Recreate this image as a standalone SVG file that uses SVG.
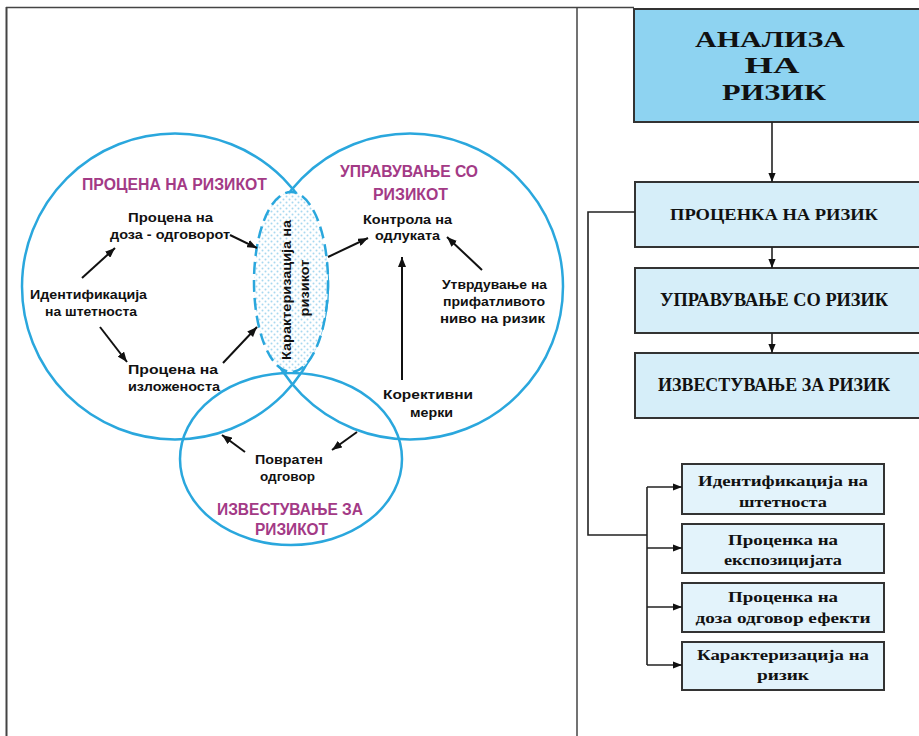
<svg xmlns="http://www.w3.org/2000/svg" width="919" height="736" viewBox="0 0 919 736">
<style>
.frame{stroke:#444;fill:none}
.circ{fill:none;stroke:#2aa7dd;stroke-width:2.5}
.lbl{font-family:"Liberation Sans",Arial,sans-serif;font-weight:bold;font-size:12px;fill:#111;text-anchor:middle}
.ttl{font-family:"Liberation Sans",Arial,sans-serif;font-weight:bold;font-size:16px;fill:#a33a86;text-anchor:middle}
.conn{stroke:#111;stroke-width:2;fill:none}
.rconn{stroke:#222;stroke-width:1.6;fill:none}
.bigbox{fill:#8ed3f1;stroke:#333;stroke-width:2}
.box{fill:#d6eef9;stroke:#333;stroke-width:2}
.sbox{fill:#e3f3fb;stroke:#333;stroke-width:2}
.serif{font-family:"Liberation Serif","Times New Roman",serif;font-weight:bold;fill:#111;text-anchor:middle}
</style>
<defs>
<marker id="ah" viewBox="0 0 10 8" refX="10" refY="4" markerWidth="10" markerHeight="8" markerUnits="userSpaceOnUse" orient="auto">
<path d="M0,0 L10,4 L0,8 z" fill="#111"/>
</marker>
<marker id="rh" viewBox="0 0 10 8" refX="10" refY="4" markerWidth="9" markerHeight="8" markerUnits="userSpaceOnUse" orient="auto">
<path d="M0,0 L10,4 L0,8 z" fill="#111"/>
</marker>
<pattern id="dots" width="6" height="6" patternUnits="userSpaceOnUse">
<rect width="6" height="6" fill="#fff"/>
<circle cx="1.5" cy="1.5" r="1" fill="#a8d8f0"/>
<circle cx="4.5" cy="4.5" r="1" fill="#a8d8f0"/>
</pattern>
</defs>
<rect width="919" height="736" fill="#fff"/>
<g id="frame">
<line class="frame" x1="6.5" y1="7" x2="6.5" y2="736" stroke-width="2"/>
<line class="frame" x1="6" y1="7.5" x2="634" y2="7.5" stroke-width="1.5"/>
<line class="frame" x1="577" y1="7" x2="577" y2="736" stroke-width="1.5"/>
</g>
<g id="circle-procena">
<circle class="circ" cx="175" cy="286.5" r="153"/>
<text class="ttl" x="174.5" y="190" textLength="185" lengthAdjust="spacingAndGlyphs">ПРОЦЕНА НА РИЗИКОТ</text>
</g>
<g id="circle-upravuvanje">
<circle class="circ" cx="410" cy="286.5" r="153"/>
<text class="ttl" x="409" y="177" textLength="138" lengthAdjust="spacingAndGlyphs">УПРАВУВАЊЕ СО</text>
<text class="ttl" x="410.5" y="200" textLength="75" lengthAdjust="spacingAndGlyphs">РИЗИКОТ</text>
</g>
<g id="circle-izvestuvanje">
<ellipse class="circ" cx="291" cy="459" rx="111" ry="86"/>
<text class="ttl" x="290" y="515" textLength="146" lengthAdjust="spacingAndGlyphs">ИЗВЕСТУВАЊЕ ЗА</text>
<text class="ttl" x="291.5" y="535" textLength="73" lengthAdjust="spacingAndGlyphs">РИЗИКОТ</text>
</g>
<g id="lens">
<ellipse cx="291" cy="282" rx="37" ry="90" fill="url(#dots)" stroke="#2aa7dd" stroke-width="2.5" stroke-dasharray="12 6"/>
<text class="lbl" transform="translate(291,290) rotate(-90)" textLength="140" lengthAdjust="spacingAndGlyphs">Карактеризација на</text>
<text class="lbl" transform="translate(309,288) rotate(-90)" textLength="57" lengthAdjust="spacingAndGlyphs">ризикот</text>
</g>
<g id="node-doza">
<text class="lbl" x="170.5" y="222" textLength="85" lengthAdjust="spacingAndGlyphs">Процена на</text>
<text class="lbl" x="170" y="239" textLength="120" lengthAdjust="spacingAndGlyphs">доза - одговорот</text>
</g>
<g id="node-identifikacija">
<text class="lbl" x="88.5" y="299" textLength="117" lengthAdjust="spacingAndGlyphs">Идентификација</text>
<text class="lbl" x="91" y="316" textLength="92" lengthAdjust="spacingAndGlyphs">на штетноста</text>
</g>
<g id="node-izlozenost">
<text class="lbl" x="173" y="374" textLength="90" lengthAdjust="spacingAndGlyphs">Процена на</text>
<text class="lbl" x="174" y="391" textLength="92" lengthAdjust="spacingAndGlyphs">изложеноста</text>
</g>
<g id="node-kontrola">
<text class="lbl" x="407.5" y="224" textLength="89" lengthAdjust="spacingAndGlyphs">Контрола на</text>
<text class="lbl" x="407.5" y="240" textLength="65" lengthAdjust="spacingAndGlyphs">одлуката</text>
</g>
<g id="node-utvrduvanje">
<text class="lbl" x="494.5" y="289" textLength="105" lengthAdjust="spacingAndGlyphs">Утврдување на</text>
<text class="lbl" x="494" y="306" textLength="102" lengthAdjust="spacingAndGlyphs">прифатливото</text>
<text class="lbl" x="492.5" y="323" textLength="105" lengthAdjust="spacingAndGlyphs">ниво на ризик</text>
</g>
<g id="node-korektivni">
<text class="lbl" x="428" y="399" textLength="90" lengthAdjust="spacingAndGlyphs">Корективни</text>
<text class="lbl" x="431.5" y="417" textLength="43" lengthAdjust="spacingAndGlyphs">мерки</text>
</g>
<g id="node-povraten">
<text class="lbl" x="289" y="464" textLength="68" lengthAdjust="spacingAndGlyphs">Повратен</text>
<text class="lbl" x="287.5" y="481" textLength="55" lengthAdjust="spacingAndGlyphs">одговор</text>
</g>
<g id="node-analiza">
<rect class="bigbox" x="634" y="9" width="292" height="113"/>
<text class="serif" x="770" y="47" font-size="24" textLength="150" lengthAdjust="spacingAndGlyphs">АНАЛИЗА</text>
<text class="serif" x="772" y="73" font-size="24" textLength="55" lengthAdjust="spacingAndGlyphs">НА</text>
<text class="serif" x="774" y="100" font-size="24" textLength="104" lengthAdjust="spacingAndGlyphs">РИЗИК</text>
</g>
<g id="node-procenka">
<rect class="box" x="635" y="182" width="292" height="65"/>
<text class="serif" x="774" y="220" font-size="16" textLength="208" lengthAdjust="spacingAndGlyphs">ПРОЦЕНКА НА РИЗИК</text>
</g>
<g id="node-upravuvanje">
<rect class="box" x="635" y="268" width="292" height="65"/>
<text class="serif" x="774" y="306" font-size="18" textLength="228" lengthAdjust="spacingAndGlyphs">УПРАВУВАЊЕ СО РИЗИК</text>
</g>
<g id="node-izvestuvanje">
<rect class="box" x="635" y="353" width="292" height="65"/>
<text class="serif" x="774" y="391" font-size="18" textLength="232" lengthAdjust="spacingAndGlyphs">ИЗВЕСТУВАЊЕ ЗА РИЗИК</text>
</g>
<g id="node-s1">
<rect class="sbox" x="682" y="464" width="202" height="50"/>
<text class="serif" x="783" y="486" font-size="14" textLength="170" lengthAdjust="spacingAndGlyphs">Идентификација на</text>
<text class="serif" x="783" y="507" font-size="14" textLength="88" lengthAdjust="spacingAndGlyphs">штетноста</text>
</g>
<g id="node-s2">
<rect class="sbox" x="682" y="524" width="202" height="49"/>
<text class="serif" x="783" y="545" font-size="14" textLength="110" lengthAdjust="spacingAndGlyphs">Проценка на</text>
<text class="serif" x="783" y="565" font-size="14" textLength="118" lengthAdjust="spacingAndGlyphs">експозицијата</text>
</g>
<g id="node-s3">
<rect class="sbox" x="682" y="583" width="202" height="49"/>
<text class="serif" x="783" y="602" font-size="14" textLength="110" lengthAdjust="spacingAndGlyphs">Проценка на</text>
<text class="serif" x="783" y="623" font-size="14" textLength="175" lengthAdjust="spacingAndGlyphs">доза одговор ефекти</text>
</g>
<g id="node-s4">
<rect class="sbox" x="682" y="642" width="202" height="48"/>
<text class="serif" x="783" y="660" font-size="14" textLength="172" lengthAdjust="spacingAndGlyphs">Карактеризација на</text>
<text class="serif" x="783" y="680" font-size="14" textLength="52" lengthAdjust="spacingAndGlyphs">ризик</text>
</g>
<g id="connectors">
<line class="conn" x1="82" y1="278" x2="115" y2="248" marker-end="url(#ah)"/>
<line class="conn" x1="100" y1="327" x2="127" y2="362" marker-end="url(#ah)"/>
<line class="conn" x1="230" y1="235" x2="257" y2="248" marker-end="url(#ah)"/>
<line class="conn" x1="223" y1="363" x2="257" y2="327" marker-end="url(#ah)"/>
<line class="conn" x1="328" y1="257" x2="368" y2="238" marker-end="url(#ah)"/>
<line class="conn" x1="482" y1="270" x2="447" y2="237" marker-end="url(#ah)"/>
<line class="conn" x1="402" y1="380" x2="402" y2="257" marker-end="url(#ah)"/>
<line class="conn" x1="245" y1="452" x2="222" y2="435" marker-end="url(#ah)"/>
<line class="conn" x1="357" y1="432" x2="332" y2="450" marker-end="url(#ah)"/>
<line class="rconn" x1="772" y1="122" x2="772" y2="182" marker-end="url(#rh)"/>
<line class="rconn" x1="772" y1="247" x2="772" y2="268" marker-end="url(#rh)"/>
<line class="rconn" x1="772" y1="333" x2="772" y2="353" marker-end="url(#rh)"/>
<path class="rconn" d="M635,212 H588 V535 H647"/>
<line class="rconn" x1="647" y1="487" x2="647" y2="665"/>
<line class="rconn" x1="647" y1="487" x2="682" y2="487" marker-end="url(#rh)"/>
<line class="rconn" x1="647" y1="548" x2="682" y2="548" marker-end="url(#rh)"/>
<line class="rconn" x1="647" y1="607" x2="682" y2="607" marker-end="url(#rh)"/>
<line class="rconn" x1="647" y1="665" x2="682" y2="665" marker-end="url(#rh)"/>
</g>
</svg>
